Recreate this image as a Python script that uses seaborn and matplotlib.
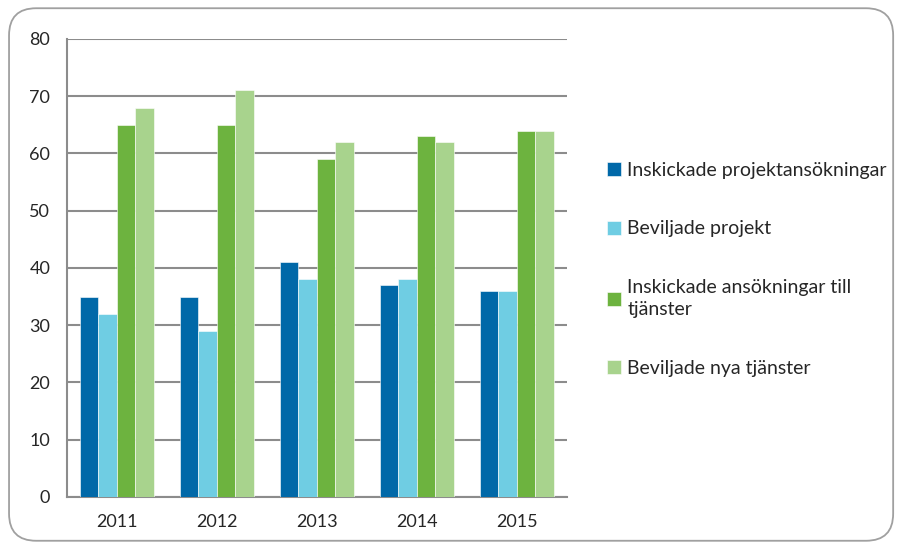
import pandas as pd
import matplotlib.pyplot as plt
import seaborn as sns
from matplotlib.patches import FancyBboxPatch

# data
years = ['2011', '2012', '2013', '2014', '2015']
serier = ['Inskickade projektansökningar', 'Beviljade projekt',
          'Inskickade ansökningar till\ntjänster', 'Beviljade nya tjänster']
inskickade_proj = [35, 35, 41, 37, 36]
beviljade_proj = [32, 29, 38, 38, 36]
inskickade_tj = [65, 65, 59, 63, 64]
beviljade_tj = [68, 71, 62, 62, 64]
cores = ['#0068A8', '#6FCDE3', '#6DB33F', '#A8D38D']

rows = []
for s, vals in zip(serier, [inskickade_proj, beviljade_proj, inskickade_tj, beviljade_tj]):
    for y, v in zip(years, vals):
        rows.append({'År': y, 'Serie': s, 'Antal': v})
df = pd.DataFrame(rows)

sns.set_style('white')
plt.rcParams['font.family'] = ['Lato', 'DejaVu Sans']

fig = plt.figure(figsize=(9.04, 5.49), dpi=100)
ax = fig.add_axes([0.074, 0.095, 0.553, 0.834])

sns.barplot(data=df, x='År', y='Antal', hue='Serie', palette=cores, saturation=1,
            width=0.74, edgecolor='white', linewidth=0.4, ax=ax, zorder=3)

ax.set_ylim(0, 80)
ax.set_yticks(range(0, 81, 10))
ax.set_xlim(-0.5, 4.5)
ax.grid(axis='y', color='#8c8c8c', linewidth=1.5, zorder=0)
ax.set_axisbelow(True)
for side in ['top', 'right']:
    ax.spines[side].set_visible(False)
for side in ['left', 'bottom']:
    ax.spines[side].set_color('#8c8c8c')
    ax.spines[side].set_linewidth(1.5)
ax.tick_params(axis='y', length=6, color='#8c8c8c', width=1.5, labelsize=13, pad=6)
ax.tick_params(axis='x', length=0, labelsize=13, pad=12)
ax.set_xlabel('')
ax.set_ylabel('')

leg = ax.legend(loc='center left', bbox_to_anchor=(1.045, 0.497), frameon=False,
                fontsize=14, handlelength=0.75, handleheight=0.75,
                handletextpad=0.3, labelspacing=2.15)
for t in leg.get_texts():
    t.set_linespacing(1.35)

# rounded frame around the whole chart
frame = FancyBboxPatch((0.01, 0.015), 0.978, 0.97, boxstyle='round,pad=0,rounding_size=0.03',
                       transform=fig.transFigure, facecolor='none', edgecolor='#a0a0a0',
                       linewidth=1.3, mutation_aspect=904 / 549)
fig.patches.append(frame)

plt.savefig('out.png', dpi=100)
